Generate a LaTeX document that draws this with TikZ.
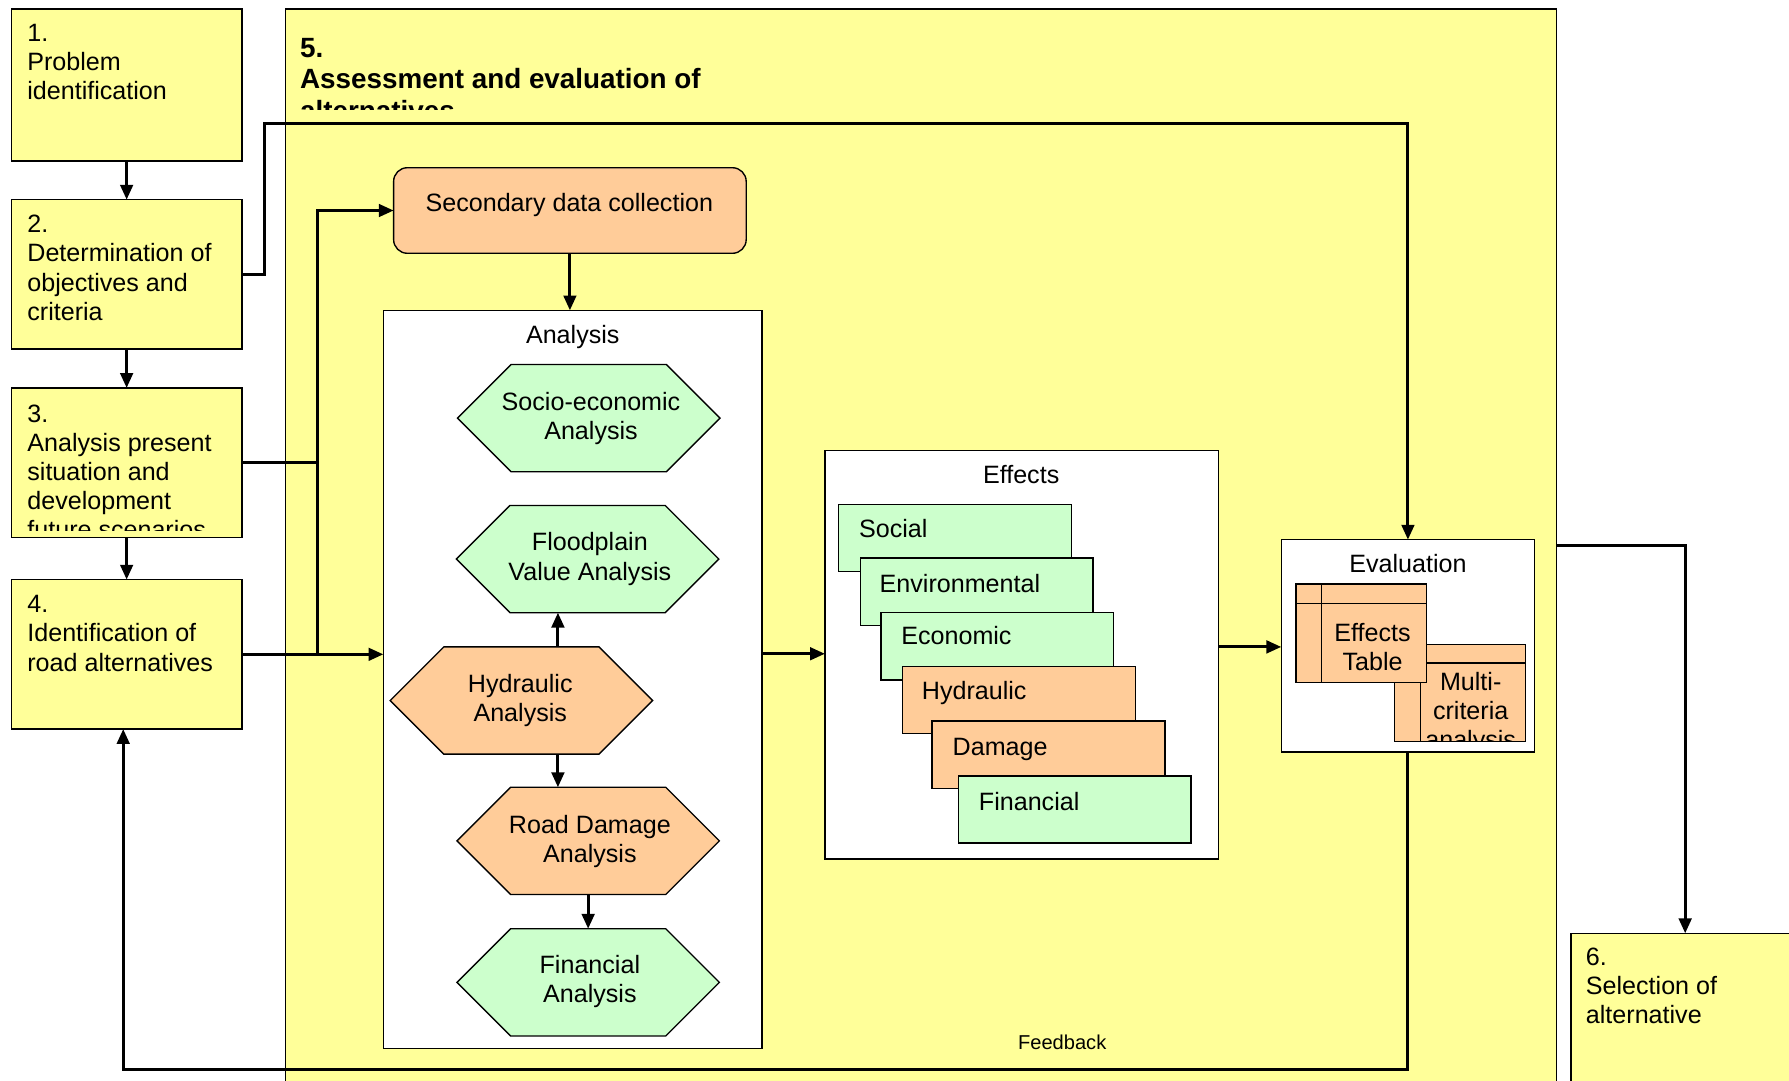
\documentclass[tikz,border=0pt]{standalone}
\usepackage{fontspec}
\setmainfont{Liberation Sans}
\usetikzlibrary{arrows.meta,shapes.symbols}
\definecolor{paleyellow}{HTML}{FFFF99}
\definecolor{palegreen}{HTML}{CCFFCC}
\definecolor{paleorange}{HTML}{FFCC99}
\begin{document}
\begin{tikzpicture}[x=0.5pt,y=-0.5pt,
  every node/.style={inner sep=0pt, outer sep=0pt},
  base/.style={font=\fontsize{11}{12.8}\selectfont},
  stepbox/.style={draw, line width=0.6pt, fill=paleyellow, anchor=north west},
  % anchored at the baseline of the last line
  steptext/.style={base, anchor=base west, align=left},
  panel/.style={draw, line width=0.6pt, fill=white, anchor=north west},
  title/.style={base, anchor=base},
  hexa/.style={signal, signal to=west and east, draw, line width=0.6pt,
    minimum width=115pt, minimum height=47pt},
  hexatext/.style={base, align=center},
  efx/.style={draw, line width=0.6pt, anchor=north west,
    minimum width=102pt, minimum height=29.5pt},
  efxtext/.style={base, anchor=base west},
  tbl/.style={draw, line width=0.6pt, fill=paleorange, anchor=north west},
  conn/.style={line width=1.3pt},
  arr/.style={conn, -{Triangle[length=6.5pt,width=5.5pt]}}
]
\useasboundingbox (0,0) rectangle (1568,947);

% left column of steps
\node[stepbox, minimum width=101pt, minimum height=66.5pt] (s1) at (10,8) {};
\node[steptext] (s1t) at (24,87.2) {1.\\Problem\\identification};
\node[stepbox, minimum width=101pt, minimum height=65.5pt] (s2) at (10,175) {};
\node[steptext] (s2t) at (24,280.8) {2.\\Determination of\\objectives and\\criteria};
\node[stepbox, minimum width=101pt, minimum height=65.5pt] (s3) at (10,340) {};
\begin{scope}
  \clip (10,340) rectangle (212,465);
  \node[steptext] (s3t) at (24,472.4) {3.\\Analysis present\\situation and\\development\\future scenarios};
\end{scope}
\node[stepbox, minimum width=101pt, minimum height=65.5pt] (s4) at (10,508) {};
\node[steptext] (s4t) at (24,588.2) {4.\\Identification of\\road alternatives};

% step 5 frame
\node[stepbox, minimum width=557pt, minimum height=490pt] (b5) at (250,8) {};
\begin{scope}
  \clip (250,8) rectangle (1364,96);
  \node[anchor=base west, align=left, font=\fontsize{12.2}{14}\selectfont\bfseries] (b5t)
    at (263,106) {5.\\Assessment and evaluation of\\alternatives};
\end{scope}

% step 6
\node[stepbox, minimum width=110pt, minimum height=80pt] (s6) at (1377,818) {};
\node[steptext] (s6t) at (1390,897.2) {6.\\Selection of\\alternative};

% secondary data
\node[draw, line width=0.6pt, fill=paleorange, rounded corners=6pt, anchor=north west,
  minimum width=154.5pt, minimum height=37.5pt] (sdc) at (345,147) {};
\node[title] (sdct) at (499,185) {Secondary data collection};

% analysis panel
\node[panel, minimum width=166pt, minimum height=323.5pt] (ana) at (336,272) {};
\node[title] (anat) at (502,301) {Analysis};
\node[hexa, fill=palegreen] (socio) at (516,366.5) {};
\node[hexatext] (sociot) at (518,367) {Socio-economic\\Analysis};
\node[hexa, fill=palegreen] (flood) at (515,490) {};
\node[hexatext] (floodt) at (517,490) {Floodplain\\Value Analysis};
\node[hexa, fill=paleorange] (hyd) at (457,614) {};
\node[hexatext] (hydt) at (456,614) {Hydraulic\\Analysis};
\node[hexa, fill=paleorange] (road) at (515.5,737) {};
\node[hexatext] (roadt) at (517,737.5) {Road Damage\\Analysis};
\node[hexa, fill=palegreen] (fin) at (515.5,861) {};
\node[hexatext] (fint) at (517,860.5) {Financial\\Analysis};

% effects panel
\node[panel, minimum width=172.5pt, minimum height=179pt] (eff) at (723,395) {};
\node[title] (efft) at (895,424) {Effects};
\node[efx, fill=palegreen] (e1) at (735,442) {};
\node[efxtext] (e1t) at (753,471) {Social};
\node[efx, fill=palegreen] (e2) at (754,489) {};
\node[efxtext] (e2t) at (771,519) {Environmental};
\node[efx, fill=palegreen] (e3) at (772,537) {};
\node[efxtext] (e3t) at (790,565) {Economic};
\node[efx, fill=paleorange] (e4) at (791,584) {};
\node[efxtext] (e4t) at (808,613) {Hydraulic};
\node[efx, fill=paleorange] (e5) at (817,632) {};
\node[efxtext] (e5t) at (835,662) {Damage};
\node[efx, fill=palegreen] (e6) at (840,680) {};
\node[efxtext] (e6t) at (858,710) {Financial};

% evaluation panel
\node[panel, minimum width=111pt, minimum height=93pt] (eval) at (1123,473) {};
\node[title] (evalt) at (1234,502) {Evaluation};
\node[tbl, minimum width=57.5pt, minimum height=42.5pt] (mca) at (1222,565) {};
\draw[line width=0.6pt] ([yshift=-8pt]mca.north west) -- ([yshift=-8pt]mca.north east);
\draw[line width=0.6pt] ([xshift=11.5pt]mca.north west) -- ([xshift=11.5pt]mca.south west);
\begin{scope}
  \clip (1222,565) rectangle (1337,650);
  \node[base, anchor=base, align=center] (mcat) at (1289,656) {Multi-\\criteria\\analysis};
\end{scope}
\node[tbl, minimum width=57pt, minimum height=43pt] (et) at (1136,512) {};
\draw[line width=0.6pt] ([yshift=-8.5pt]et.north west) -- ([yshift=-8.5pt]et.north east);
\draw[line width=0.6pt] ([xshift=11pt]et.north west) -- ([xshift=11pt]et.south west);
\node[base, anchor=base, align=center] (ett) at (1203,588) {Effects\\Table};

% connectors
\coordinate (topL) at (232,108);
\coordinate (topR) at (1234,108);
\coordinate (busx) at (278,0);
\coordinate (fb) at (108,937);
\draw[arr] (s1.south) -- (s2.north);
\draw[arr] (s2.south) -- (s3.north);
\draw[arr] (s3.south) -- (s4.north);
\draw[arr] (s2.east) -| (topL) -- (topR) -- (eval.north);
\draw[conn] (s3.east) -- (s3.east -| busx);
\draw[arr] (s4.east) -- (s4.east -| ana.west);
\draw[arr] (s4.east -| busx) |- (sdc.west);
\draw[arr] (sdc.south) -- (sdc.south |- ana.north);
\draw[arr] ([xshift=16pt]hyd.north) -- ([xshift=16pt]hyd.north |- flood.south);
\draw[arr] ([xshift=16pt]hyd.south) -- ([xshift=16pt]hyd.south |- road.north);
\draw[arr] (road.south) -- (fin.north);
\draw[arr] (ana.east |- 0,573) -- (eff.west |- 0,573);
\draw[arr] (eff.east |- 0,567) -- (eval.west |- 0,567);
\draw[arr] (b5.east |- 0,478) -| ([xshift=-5pt]s6.north);
\draw[arr] (eval.south) -- (eval.south |- fb) -- (fb) -- ([xshift=-1.5pt]s4.south);
\node[anchor=base, font=\fontsize{8.8}{10}\selectfont] (fbt) at (931,920) {Feedback};
\end{tikzpicture}
\end{document}
